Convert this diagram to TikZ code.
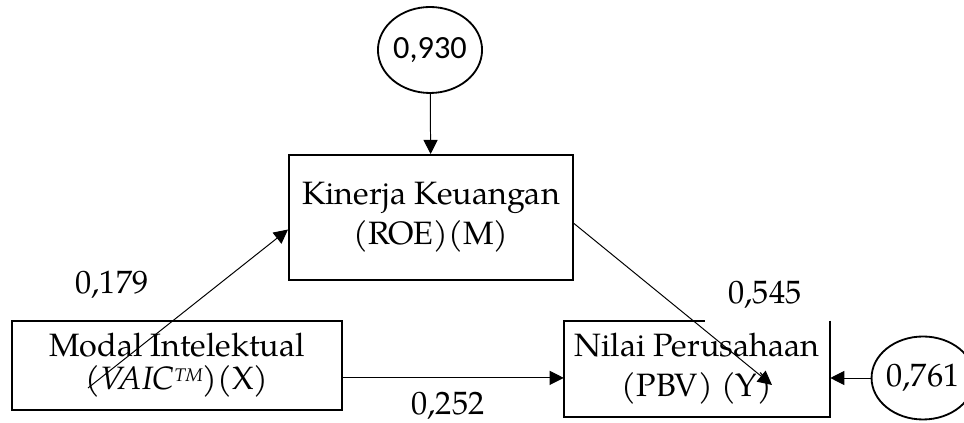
\documentclass[tikz,border=0pt]{standalone}
\usepackage{fontspec}
\setmainfont{texgyrepagella}[Extension=.otf,UprightFont=*-regular,ItalicFont=*-italic,BoldFont=*-bold]
\newfontfamily\numfont{Carlito}
\usetikzlibrary{arrows.meta,shapes.geometric}

\begin{document}
\begin{tikzpicture}[font=\fontsize{23}{28.5}\selectfont,>={Triangle[length=10pt,width=10pt]},
  var/.style={rectangle,align=center,inner sep=0pt},
  err/.style={ellipse,draw,line width=1.3pt,inner sep=0pt},
  path/.style={->,line width=0.7pt}]
 \useasboundingbox (0,0) rectangle (24.1,10.575);
 % variabel
 \node[var,draw,line width=1.4pt,minimum width=7.1cm,minimum height=3.125cm] (K) at (10.775,5.1375){Kinerja Keuangan\\(ROE)(M)};
 \node[var,draw,line width=1.4pt,minimum width=8.25cm,minimum height=2.225cm,font=\fontsize{23}{23.5}\selectfont] (X) at (4.425,1.4375){Modal Intelektual\\{\itshape (VAIC\raisebox{0.5ex}{\fontsize{13}{13}\selectfont TM})}(X)};
 \node[var,minimum width=6.65cm,minimum height=2.4cm] (Y) at (17.425,1.35){Nilai Perusahaan\\(PBV) (Y)};
 \draw[line width=1.4pt] (Y.north east) -- (Y.south east) -- (Y.south west) -- (Y.north west) -- ++(3.525,0);
 % error
 \node[err,minimum width=2.6cm,minimum height=2.15cm] (e1) at (10.75,9.325){\numfont 0,930};
 \node[err,minimum width=2.3cm,minimum height=2.075cm] (e2) at (23.075,1.125){0,761};
 % jalur
 \coordinate (xs) at (2.2,0.875);
 \coordinate (ye) at (19.3,0.95);
 \draw[path] (e1) -- (K);
 \draw[path] (xs) -- ([yshift=-3mm]K.west);
 \draw[path] ([yshift=-1.5mm]K.east) -- (ye);
 \draw[path] ([yshift=-3.1mm]X.east) -- ([yshift=-3.1mm]X.east -| Y.west);
 \draw[path] (e2) -- (e2 -| Y.east);
 % koefisien
 \node at (2.8,3.45){0,179};
 \node at (19.125,3.2){0,545};
 \node at (11.2,0.42){0,252};
\end{tikzpicture}
\end{document}
